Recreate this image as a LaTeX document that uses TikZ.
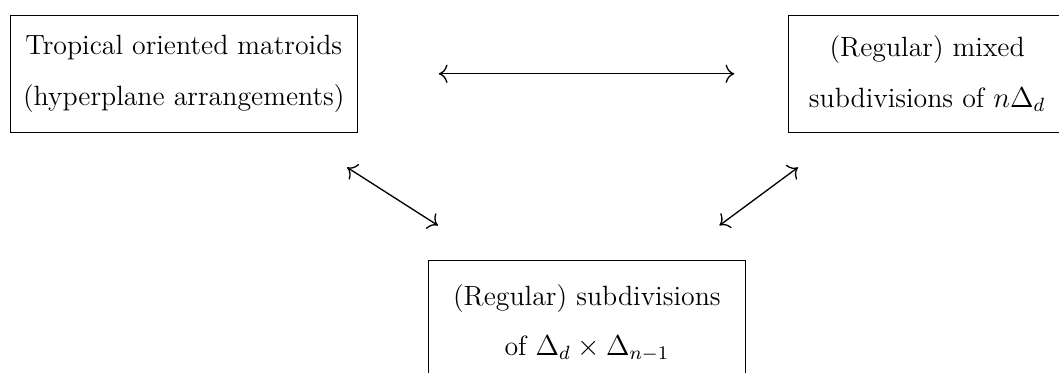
\documentclass[tikz,border=0pt]{standalone}
\usetikzlibrary{arrows.meta,positioning}

\begin{document}
\begin{tikzpicture}[
  >={Computer Modern Rightarrow[scale=1.3]},
  font=\fontsize{11.6pt}{14pt}\selectfont,
  box/.style={draw,align=center,inner sep=0pt},
  arrow/.style={<->,line width=0.55pt}
]
  \useasboundingbox (0,0) rectangle (15.5,5.45);
  \node[box,minimum width=5.07cm,minimum height=1.71cm] (trop) at (2.69,4.37) {Tropical oriented matroids\\[7pt](hyperplane arrangements)};
  \node[box,minimum width=4.07cm,minimum height=1.71cm] (mixed) at (13.57,4.37) {(Regular) mixed\\[7pt]subdivisions of $n\Delta_d$};
  \node[box,minimum width=4.64cm,minimum height=1.83cm] (prod) at (8.59,0.72) {(Regular) subdivisions\\[7pt]of $\Delta_d\times\Delta_{n-1}$};

  \coordinate (tl) at (5.08,3.0);
  \coordinate (bl) at (6.41,2.15);
  \coordinate (tr) at (11.68,3.0);
  \coordinate (br) at (10.53,2.15);

  \draw[arrow,shorten <=1.19cm,shorten >=0.78cm] (trop) -- (mixed.west |- trop);
  \draw[arrow] (tl) -- (bl);
  \draw[arrow] (tr) -- (br);
\end{tikzpicture}
\end{document}
